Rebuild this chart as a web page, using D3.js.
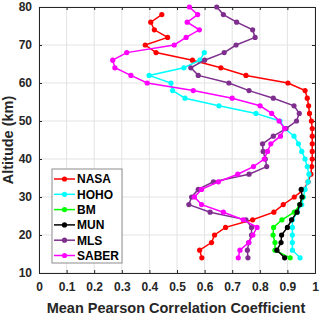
<!DOCTYPE html>
<html>
<head>
<meta charset="utf-8">
<script src="https://cdn.jsdelivr.net/npm/d3@7"></script>
<style>
  body { margin: 0; background: #fff; }
  text { font-family: "Liberation Sans", Arial, sans-serif; font-weight: bold; }
</style>
</head>
<body>
<svg id="chart"></svg>
<script>
//data
var altNasa = [78,76,74,72,70,68,66,64,62,60,58,56,54,52,50,48,46,44,42,40,38,36,34,32,30,28,26,24,22,20,18,16,14];
var nasa    = [0.445,0.405,0.418,0.466,0.385,0.424,0.556,0.659,0.75,0.902,0.964,0.972,0.977,0.98,0.987,0.99,0.99,0.99,0.99,0.99,0.988,0.985,0.975,0.96,0.925,0.885,0.851,0.774,0.676,0.636,0.625,0.582,0.59];

var altHoho = [68,66,64,62,60,58,56,54,52,50,48,46,44,42,40,38,36,34,32,30,28,26,24,22,20,18,16,14];
var hoho    = [0.599,0.583,0.525,0.399,0.478,0.484,0.529,0.652,0.786,0.873,0.891,0.924,0.94,0.952,0.964,0.972,0.978,0.975,0.964,0.958,0.952,0.936,0.918,0.918,0.918,0.918,0.918,0.946];

var altBm = [30,28,26,24,22,20,18,16,14];
var bm    = [0.955,0.945,0.925,0.88,0.85,0.848,0.855,0.855,0.91];

var altMun = [32,30,28,26,24,22,20,18,16,14];
var mun    = [0.95,0.953,0.945,0.935,0.915,0.9,0.879,0.877,0.862,0.89];

var altMls = [80,78,76,74,72,70,68,66,64,62,60,58,56,54,52,50,48,46,44,42,40,38,36,34,32,30,28,26,24,22,20,18,16,14];
var mls    = [0.644,0.668,0.716,0.774,0.783,0.714,0.671,0.6,0.55,0.577,0.688,0.761,0.849,0.924,0.943,0.933,0.895,0.849,0.81,0.812,0.82,0.825,0.761,0.632,0.577,0.553,0.543,0.62,0.75,0.77,0.77,0.76,0.755,0.757];

var altSaber = [80,78,76,74,72,70,68,66,64,62,60,58,56,54,52,50,48,46,44,42,40,38,36,34,32,30,28,26,24,22,20,18,16,14];
var saber    = [0.545,0.575,0.537,0.581,0.533,0.49,0.318,0.267,0.275,0.333,0.392,0.559,0.7,0.801,0.843,0.87,0.89,0.875,0.84,0.828,0.816,0.777,0.72,0.65,0.589,0.563,0.589,0.668,0.74,0.79,0.775,0.76,0.728,0.722];

var seriesNames  = ["NASA","HOHO","BM","MUN","MLS","SABER"];
var seriesColors = ["#ff0000","#00ffff","#00ff00","#000000","#7e2f8e","#ff00ff"];
var seriesValues = [nasa, hoho, bm, mun, mls, saber];
var seriesAlts   = [altNasa, altHoho, altBm, altMun, altMls, altSaber];

var xTicks = [0,0.1,0.2,0.3,0.4,0.5,0.6,0.7,0.8,0.9,1];
var yTicks = [10,20,30,40,50,60,70,80];

var svgWidth = 320;
var svgHeight = 316;
var margin = {left: 39, top: 7, right: 5, bottom: 43};
var plotW = svgWidth - margin.left - margin.right;
var plotH = svgHeight - margin.top - margin.bottom;

var svg = d3.select("#chart")
            .attr("width", svgWidth)
            .attr("height", svgHeight);

var x = d3.scaleLinear().domain([0, 1]).range([0, plotW]);
var y = d3.scaleLinear().domain([10, 80]).range([plotH, 0]);

var g = svg.append("g").attr("transform", "translate(" + margin.left + "," + margin.top + ")");

//grid
g.selectAll(".vgrid").data(xTicks).enter().append("line")
 .attr("x1", function(d){ return x(d); }).attr("x2", function(d){ return x(d); })
 .attr("y1", 0).attr("y2", plotH)
 .style("stroke", "#e3e3e3").style("stroke-width", 1);
g.selectAll(".hgrid").data(yTicks).enter().append("line")
 .attr("y1", function(d){ return y(d); }).attr("y2", function(d){ return y(d); })
 .attr("x1", 0).attr("x2", plotW)
 .style("stroke", "#e3e3e3").style("stroke-width", 1);

//axes (ticks inside, like matlab)
var xAxis = d3.axisBottom(x).tickValues(xTicks).tickSize(-3).tickPadding(9)
              .tickFormat(function(d){ return d3.format("")(+d.toFixed(1)); });
var yAxis = d3.axisLeft(y).tickValues(yTicks).tickSize(-3).tickPadding(7);

var gx = g.append("g").attr("transform", "translate(0," + plotH + ")").call(xAxis);
var gy = g.append("g").call(yAxis);
[gx, gy].forEach(function(a){
  a.select(".domain").style("stroke", "#262626");
  a.selectAll(".tick line").style("stroke", "#262626");
  a.selectAll(".tick text").style("font-size", "12px").style("fill", "#262626")
   .style("font-family", "'Liberation Sans', Arial, sans-serif").style("font-weight", "bold");
});

//top and right box edges with ticks
var gTop = g.append("g").call(d3.axisTop(x).tickValues(xTicks).tickSize(-3).tickFormat(""));
var gRight = g.append("g").attr("transform", "translate(" + plotW + ",0)")
              .call(d3.axisRight(y).tickValues(yTicks).tickSize(-3).tickFormat(""));
[gTop, gRight].forEach(function(a){
  a.select(".domain").style("stroke", "#262626");
  a.selectAll(".tick line").style("stroke", "#262626");
});

//series
var line = d3.line()
             .x(function(d){ return x(d[0]); })
             .y(function(d){ return y(d[1]); });

seriesNames.forEach(function(name, i){
  var pts = seriesValues[i].map(function(v, j){ return [v, seriesAlts[i][j]]; });
  g.append("path")
   .datum(pts)
   .attr("d", line)
   .style("fill", "none")
   .style("stroke", seriesColors[i])
   .style("stroke-width", 1.5);
  g.selectAll(".dot" + i).data(pts).enter().append("circle")
   .attr("cx", function(d){ return x(d[0]); })
   .attr("cy", function(d){ return y(d[1]); })
   .attr("r", 2.6)
   .style("fill", seriesColors[i]);
});

//axis labels
svg.append("text")
   .attr("x", margin.left + plotW / 2 - 1).attr("y", 313)
   .attr("text-anchor", "middle")
   .style("font-size", "14.5px").style("fill", "#262626")
   .text("Mean Pearson Correlation Coefficient");

svg.append("text")
   .attr("transform", "translate(13," + (margin.top + plotH / 2) + ") rotate(-90)")
   .attr("text-anchor", "middle")
   .style("font-size", "14.5px").style("fill", "#262626")
   .text("Altitude (km)");

//legend
var legend = svg.append("g").attr("transform", "translate(52,169)");
legend.append("rect")
      .attr("width", 70).attr("height", 94)
      .style("fill", "#fff").style("stroke", "#8c8c8c").style("stroke-width", 1);
seriesNames.forEach(function(name, i){
  var ly = 10 + i * 15.3;
  legend.append("line")
        .attr("x1", 2).attr("x2", 23).attr("y1", ly).attr("y2", ly)
        .style("stroke", seriesColors[i]).style("stroke-width", 1.5);
  legend.append("circle")
        .attr("cx", 12.5).attr("cy", ly).attr("r", 2.6)
        .style("fill", seriesColors[i]);
  legend.append("text")
        .attr("x", 25).attr("y", ly + 4.3)
        .style("font-size", "12px").style("fill", "#000")
        .text(name);
});
</script>
</body>
</html>
